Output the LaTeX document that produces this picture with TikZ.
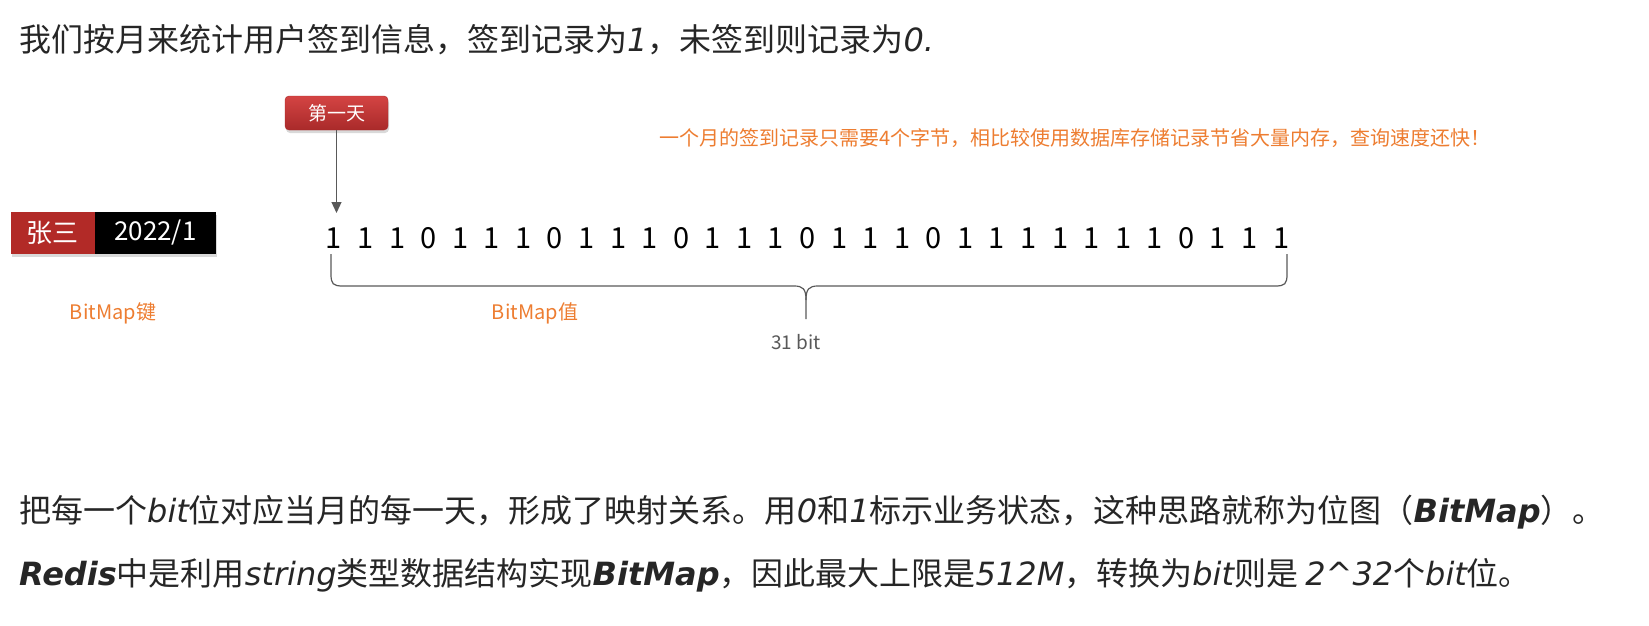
\documentclass[tikz,border=0pt]{standalone}
\usepackage{fontspec}
\usepackage{tikz}
\usetikzlibrary{arrows.meta,shadows}

\setmainfont{Noto Sans CJK SC}
\newfontfamily\handfont{DejaVu Sans}
\newcommand\hw[1]{{\handfont\itshape #1}}
\newcommand\hwb[1]{{\handfont\bfseries\itshape #1}}

\definecolor{keyred}{HTML}{B22A27}
\definecolor{daytop}{HTML}{D44443}
\definecolor{daybot}{HTML}{A92A2A}
\definecolor{noteorange}{HTML}{ED7D31}
\definecolor{linegray}{HTML}{595959}
\definecolor{textdark}{HTML}{262626}

\begin{document}
\begin{tikzpicture}[x=1pt,y=-1pt,
  line/.style={anchor=west, inner sep=0pt, text=textdark},
  bit/.style={font=\fontsize{29}{32}\selectfont, text=black},
  daybox/.style={rounded corners=4pt, top color=daytop, bottom color=daybot,
    draw=daybot, text=white, minimum width=103pt, minimum height=34pt,
    font=\fontsize{19}{22}\selectfont,
    drop shadow={shadow xshift=1pt, shadow yshift=-3pt, opacity=0.3}},
  keypart/.style={minimum height=42pt, inner sep=0pt, text=white,
    font=\fontsize{26}{30}\selectfont,
    drop shadow={shadow xshift=1pt, shadow yshift=-3pt, opacity=0.3}},
  note/.style={text=noteorange, font=\fontsize{20}{24}\selectfont},
  arrow/.style={draw=linegray, line width=1.2pt,
    -{Triangle[length=11pt,width=10pt]}},
  brace/.style={draw=linegray, line width=1.2pt}]

  \def\bitx{334}
  \def\bitdx{31.57}
  \def\bity{238}

  % frame
  \useasboundingbox (0,0) rectangle (1649,626);

  % top line
  \node[line, font=\fontsize{32}{36}\selectfont] (title) at (19,40)
    {我们按月来统计用户签到信息，签到记录为\hw{1}，未签到则记录为\hw{0.}};

  % key
  \node[keypart, fill=keyred, minimum width=84pt] (name) at (52.5,233) {张三};
  \node[keypart, fill=black, minimum width=121pt, anchor=west] (month)
    at (name.east) {2022/1};
  \node[note] (keylabel) at (113,313) {BitMap键};

  % bits
  \foreach \b [count=\i from 0] in {1,1,1,0,1,1,1,0,1,1,1,0,1,1,1,0,
                                    1,1,1,0,1,1,1,1,1,1,1,0,1,1,1}
  \node[bit] (b\i) at (\bitx+\bitdx*\i,\bity) {\b};

  % first day
  \node[daybox] (day) at (336.5,113) {第一天};
  \coordinate (tip) at (day.south |- 0,213);
  \draw[arrow] (day.south) -- (tip);

  % brace
  \draw[brace] (331,254) -- (331,274) .. controls (331,284) and (333,286) ..
    (343,286) -- (794,286) .. controls (803,286) and (806,289) .. (806,300)
    -- (806,319);
  \draw[brace] (806,300) .. controls (806,289) and (809,286) .. (818,286)
    -- (1275,286) .. controls (1285,286) and (1287,284) .. (1287,274)
    -- (1287,254);
  \node[note] (vallabel) at (535,313) {BitMap值};
  \node[text=linegray, font=\fontsize{19}{22}\selectfont] (count)
    at (796,342) {31 bit};

  % remark
  \node[note] (remark) at (1075,138)
    {一个月的签到记录只需要4个字节，相比较使用数据库存储记录节省大量内存，查询速度还快！};

  % bottom lines
  \node[line, font=\fontsize{32}{36}\selectfont] (text1) at (19,512)
    {把每一个\hw{bit}位对应当月的每一天，形成了映射关系。用\hw{0}和\hw{1}标示业务状态，这种思路就称为位图（\hwb{BitMap}）。};
  \node[line, font=\fontsize{32}{36}\selectfont] (text2) at (19,575)
    {\hwb{Redis}中是利用\hw{string}类型数据结构实现\hwb{BitMap}，因此最大上限是\hw{512M}，转换为\hw{bit}则是 \hw{2\textasciicircum32}个\hw{bit}位。};

\end{tikzpicture}
\end{document}
